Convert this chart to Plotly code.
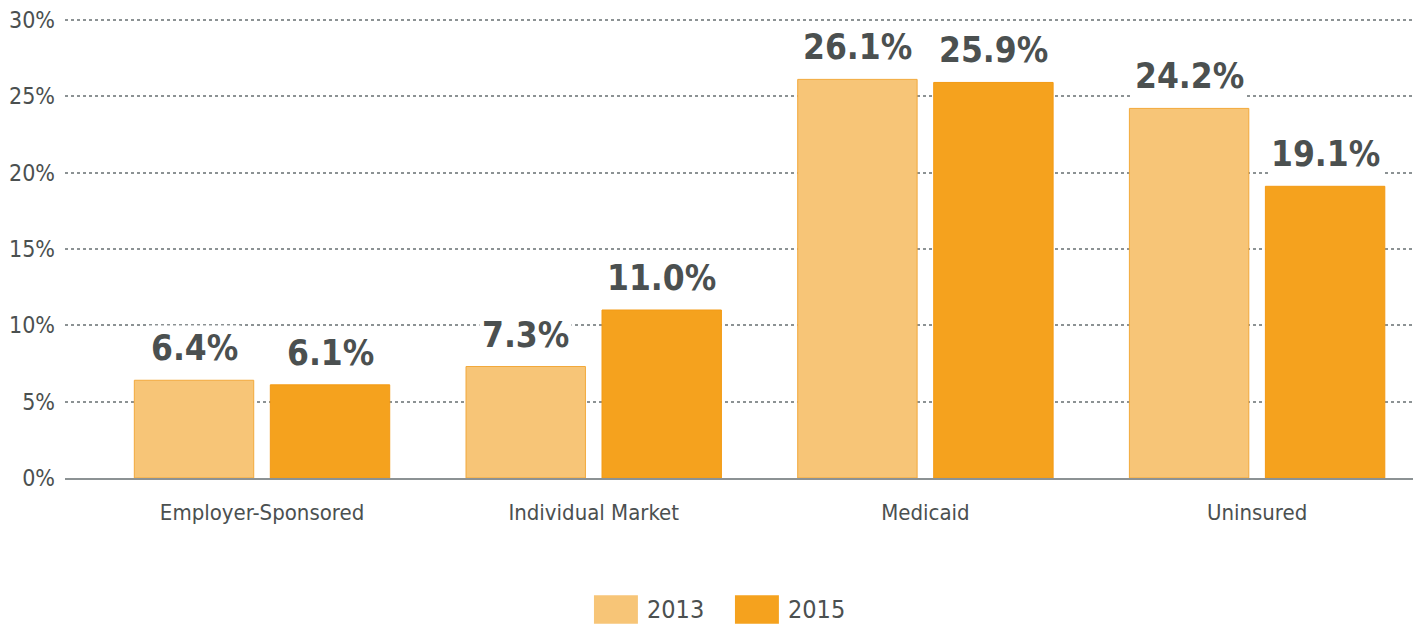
import plotly.graph_objects as go

categories = ["Employer-Sponsored", "Individual Market", "Medicaid", "Uninsured"]
years = ["2013", "2015"]
values_2013 = [6.4, 7.3, 26.1, 24.2]
values_2015 = [6.1, 11.0, 25.9, 19.1]
y_ticks = [0, 5, 10, 15, 20, 25, 30]
y_tick_labels = ["0%", "5%", "10%", "15%", "20%", "25%", "30%"]

colors = ["#F7C577", "#F5A21E"]
edge_colors = ["#F2A93B", "#F39A14"]
font_family = "Liberation Sans Narrow, DejaVu Sans Condensed, Arial Narrow, sans-serif"
text_color = "#4B5050"

bar_width = 0.36
offsets = [-0.385, 0.025]
series = [values_2013, values_2015]
x_idx = list(range(len(categories)))

fig = go.Figure()
annotations = []
for k, (name, vals) in enumerate(zip(years, series)):
    fig.add_trace(go.Bar(
        x=x_idx, y=vals, name=name,
        width=bar_width, offset=offsets[k],
        marker=dict(color=colors[k], line=dict(color=edge_colors[k], width=1)),
        showlegend=False,
        hoverinfo="skip",
    ))
    for i, v in zip(x_idx, vals):
        annotations.append(dict(
            x=i + offsets[k] + bar_width / 2, y=v, xref="x", yref="y",
            text=f"<b>{v:.1f}%</b>", showarrow=False,
            yanchor="bottom", xanchor="center", yshift=9,
            bgcolor="white", borderpad=2,
            font=dict(family=font_family, size=35, color=text_color),
        ))

# Legend drawn as swatches with labels below the plot
shapes = []
legend_x = [0.3924, 0.497]
for k, name in enumerate(years):
    x0 = legend_x[k]
    shapes.append(dict(type="rect", xref="paper", yref="paper",
                       x0=x0, x1=x0 + 0.0326, y0=-0.317, y1=-0.255,
                       fillcolor=colors[k], line=dict(width=0)))
    annotations.append(dict(
        xref="paper", yref="paper", x=x0 + 0.0378, y=-0.286,
        text=name, showarrow=False, xanchor="left", yanchor="middle",
        font=dict(family=font_family, size=25, color=text_color),
    ))

fig.update_layout(
    width=1413, height=626,
    margin=dict(l=65, r=0, t=18, b=148),
    paper_bgcolor="white", plot_bgcolor="white",
    font=dict(family=font_family, color=text_color),
    annotations=annotations, shapes=shapes,
    showlegend=False,
    xaxis=dict(
        range=[-0.594, 3.47],
        tickvals=x_idx, ticktext=categories,
        tickfont=dict(family=font_family, size=22, color=text_color),
        showgrid=False, zeroline=False,
        showline=True, linecolor="#8C9294", linewidth=2,
        ticks="", ticklabelstandoff=14,
    ),
    yaxis=dict(
        range=[0, 30.12],
        tickvals=y_ticks, ticktext=y_tick_labels,
        tickfont=dict(family=font_family, size=23, color=text_color),
        showgrid=True, gridcolor="#8C9294", griddash="dot", gridwidth=1.5,
        zeroline=False, showline=False, ticks="",
        ticklabelstandoff=9,
    ),
)

fig.write_html("out.html")
